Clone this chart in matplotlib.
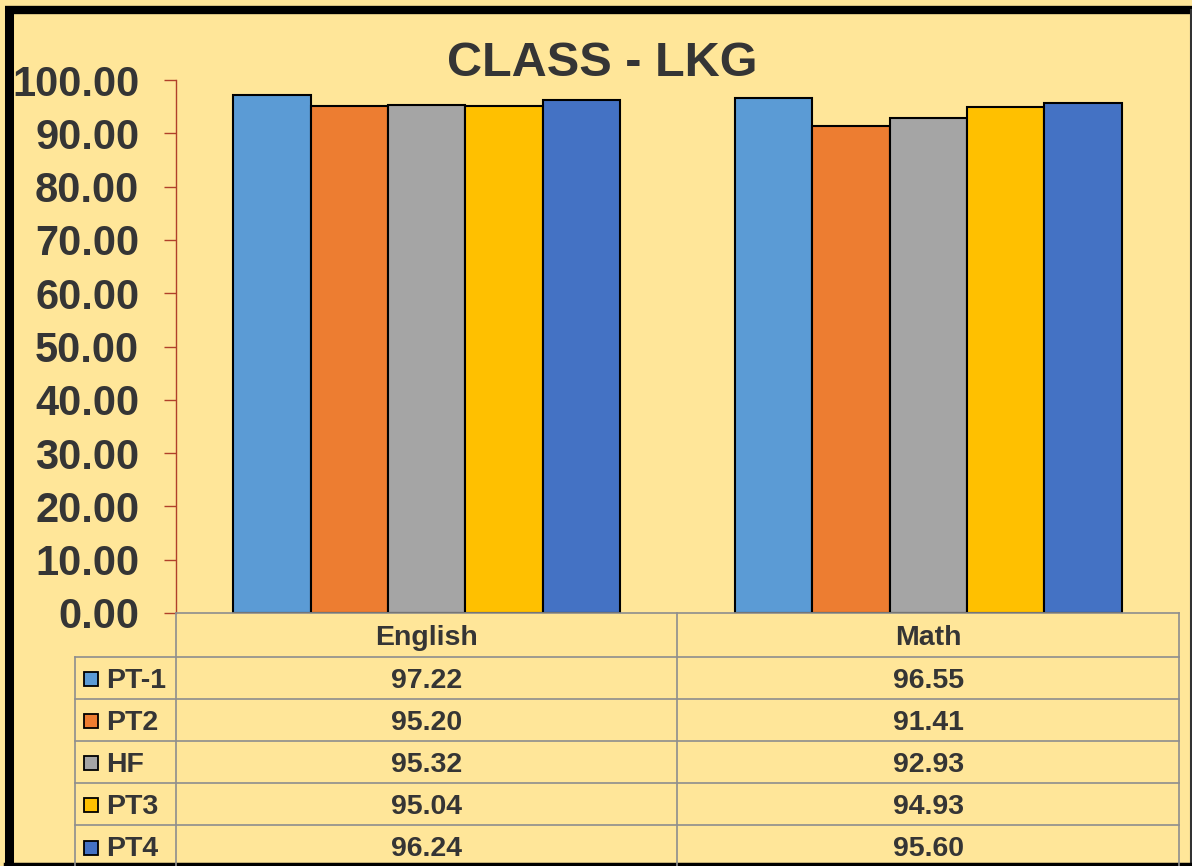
import matplotlib
matplotlib.use("Agg")
import matplotlib.pyplot as plt
import matplotlib.transforms as mtransforms
from matplotlib.lines import Line2D
from matplotlib.patches import Rectangle
import numpy as np

title = "CLASS - LKG"
categories = ["English", "Math"]
series_names = ["PT-1", "PT2", "HF", "PT3", "PT4"]
pt1 = [97.22, 96.55]
pt2 = [95.20, 91.41]
hf = [95.32, 92.93]
pt3 = [95.04, 94.93]
pt4 = [96.24, 95.60]
series_values = [pt1, pt2, hf, pt3, pt4]
colors = ["#5B9BD5", "#ED7D31", "#A5A5A5", "#FFC000", "#4472C4"]
yticks = [0, 10, 20, 30, 40, 50, 60, 70, 80, 90, 100]

W, H = 1192, 866
BG = "#FFE699"
TXT = "#353535"
GRID = "#8E8E8E"
AXRED = "#B0402A"
FONT = "Liberation Sans"

fig = plt.figure(figsize=(W / 100, H / 100), dpi=100, facecolor=BG)

def fx(px):
    return px / W

def fy(py):
    return 1 - py / H

ax_left, ax_right, ax_top, ax_bot = 176, 1179, 80, 613
ax = fig.add_axes([fx(ax_left), fy(ax_bot), fx(ax_right) - fx(ax_left), fy(ax_top) - fy(ax_bot)])
ax.set_facecolor(BG)

x = np.arange(len(categories))
bw = 0.1543
for i, (name, vals, c) in enumerate(zip(series_names, series_values, colors)):
    ax.bar(x + (i - 2) * bw, vals, width=bw, color=c, edgecolor="black", linewidth=1.5, zorder=3)

ax.set_xlim(-0.5, len(categories) - 0.5)
ax.set_ylim(0, 100)
ax.set_yticks(yticks)
ax.set_yticklabels([f"{v:.2f}" for v in yticks], fontfamily=FONT, fontweight="bold", fontsize=30, color=TXT)
ax.set_xticks([])
for s in ["top", "right", "bottom"]:
    ax.spines[s].set_visible(False)
ax.spines["left"].set_color(AXRED)
ax.spines["left"].set_linewidth(1.0)
ax.tick_params(axis="y", direction="out", length=8.5, width=1.0, color=AXRED, pad=18)

# Table
blend = mtransforms.blended_transform_factory(ax.transData, fig.transFigure)
col_edges_px = [176, 677, 1179]
row_edges = [613, 657, 699, 741, 783, 825, 868]
lab_left = 75

def hline(y, x0, x1):
    fig.add_artist(Line2D([fx(x0), fx(x1)], [fy(y), fy(y)], color=GRID, lw=1.2, zorder=5))

def vline(xp, y0, y1):
    fig.add_artist(Line2D([fx(xp), fx(xp)], [fy(y0), fy(y1)], color=GRID, lw=1.2, zorder=5))

hline(613, 176, 1179)
for y in row_edges[1:-1]:
    hline(y, lab_left, 1179)
for xp in col_edges_px:
    vline(xp, 613, 866)
vline(lab_left, 657, 866)

tk = dict(fontfamily=FONT, fontweight="bold", fontsize=20.5, color=TXT, ha="center", va="center")
hc = (row_edges[0] + row_edges[1]) / 2
for xi, cat in zip(x, categories):
    fig.text(xi, fy(hc + 3), cat, transform=blend, **tk)

for r, (name, vals, c) in enumerate(zip(series_names, series_values, colors)):
    yc = (row_edges[r + 1] + row_edges[r + 2]) / 2
    for xi, v in zip(x, vals):
        fig.text(xi, fy(yc + 3), f"{v:.2f}", transform=blend, **tk)
    s = 14
    fig.add_artist(Rectangle((fx(84), fy(yc + 1 + s / 2)), s / W, s / H, facecolor=c,
                             edgecolor="black", linewidth=1.3, transform=fig.transFigure, zorder=6))
    fig.text(fx(106), fy(yc + 3), name, fontfamily=FONT, fontweight="bold", fontsize=20.5,
             color=TXT, ha="left", va="center")

# Title
fig.text(fx(602), fy(63), title, fontfamily=FONT, fontweight="bold", fontsize=35,
         color=TXT, ha="center", va="center")

# Chart border
fig.add_artist(Line2D([fx(9), fx(9)], [fy(6), fy(870)], color="black", lw=6.5, solid_capstyle="butt"))
fig.add_artist(Line2D([fx(5), fx(1200)], [fy(10), fy(10)], color="black", lw=6, solid_capstyle="butt"))
fig.add_artist(Line2D([fx(1191), fx(1191)], [fy(10), fy(866)], color="#333333", lw=1.5))
fig.add_artist(Line2D([fx(5), fx(1200)], [fy(864), fy(864)], color="black", lw=2.5))

fig.savefig("out.png", dpi=100, facecolor=BG)
